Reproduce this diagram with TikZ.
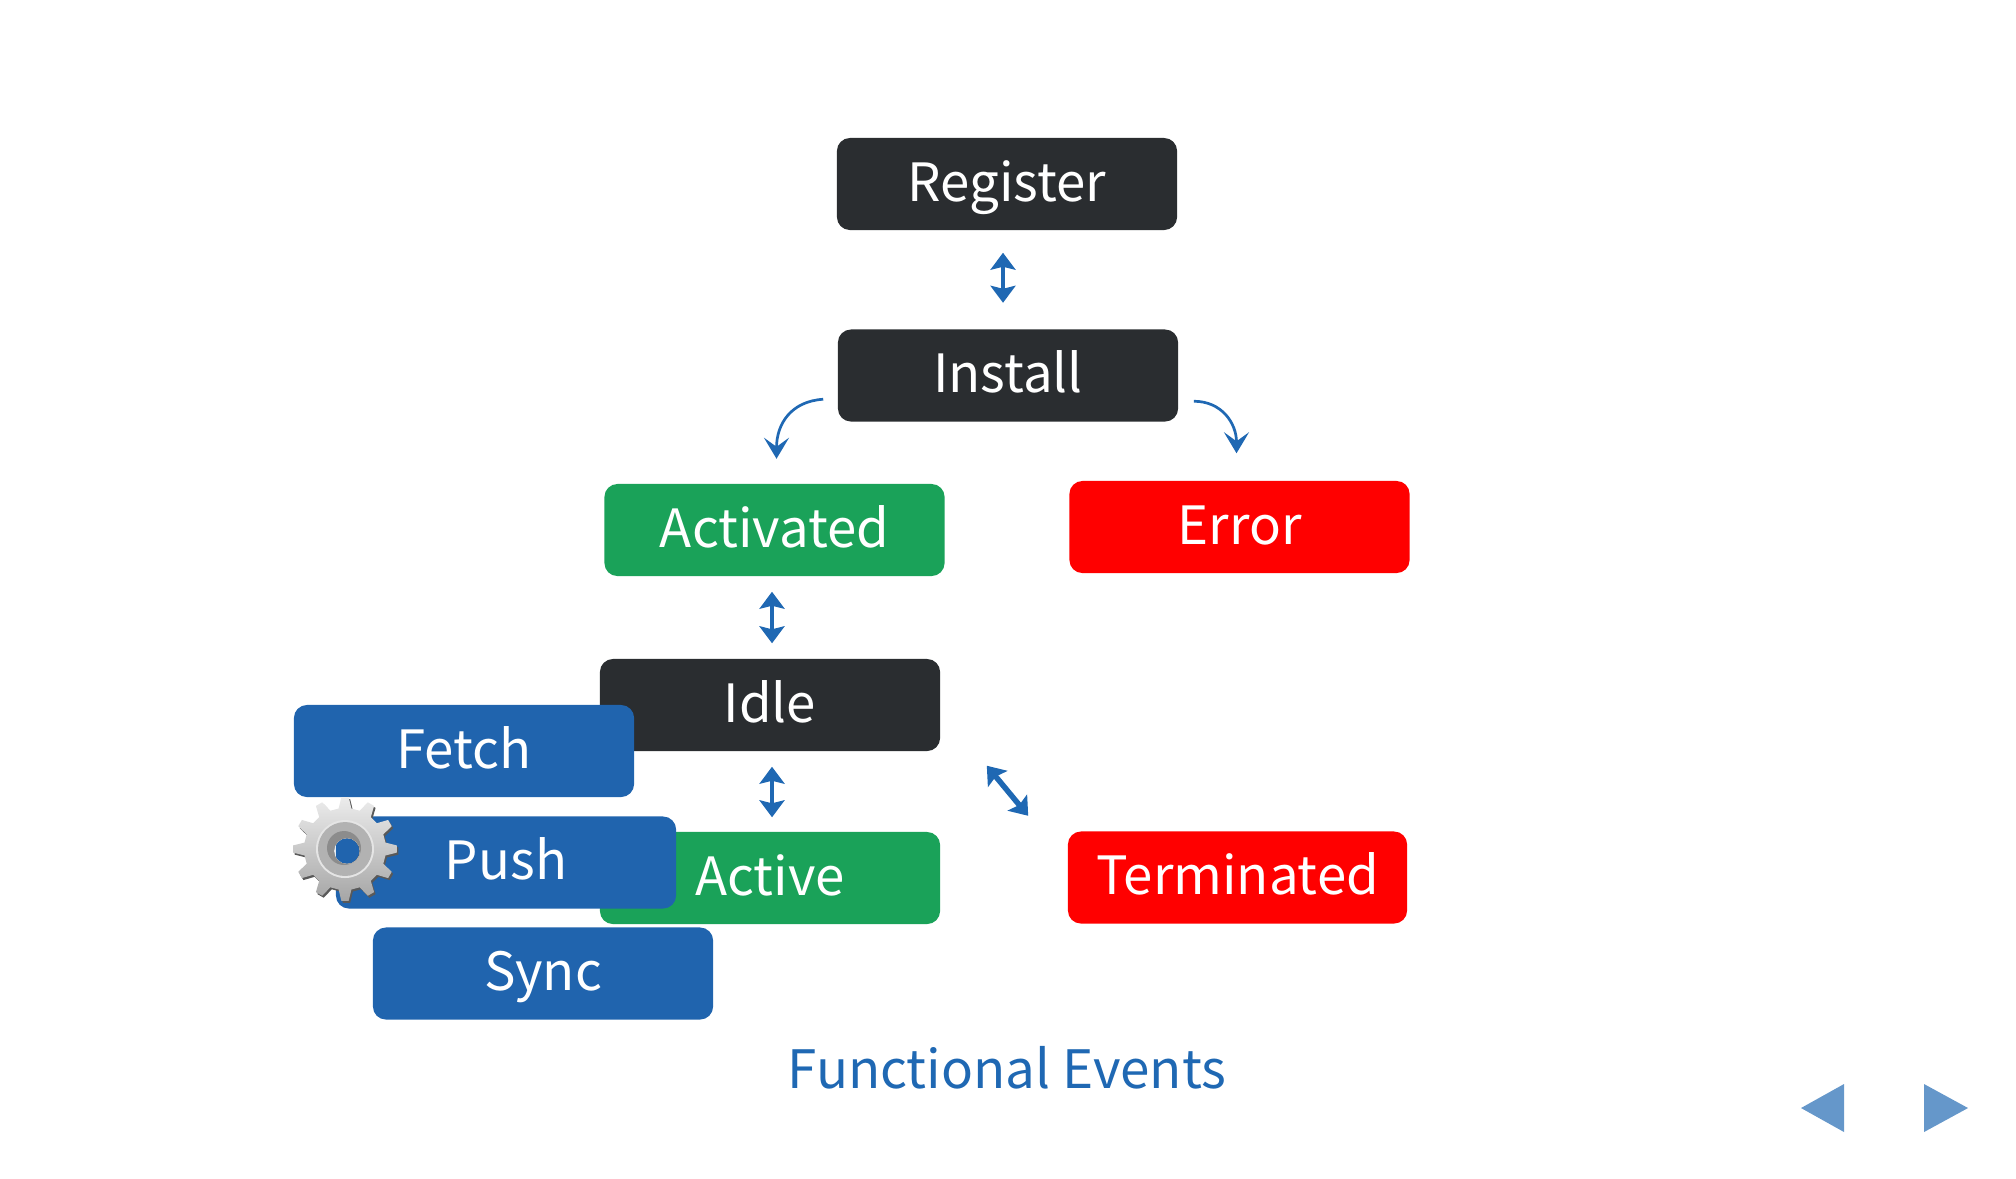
\documentclass[tikz,border=0pt]{standalone}
\usepackage{fontspec}
\setmainfont{Noto Sans CJK SC}
\usetikzlibrary{arrows.meta,calc}
\definecolor{darkbox}{HTML}{2A2D30}
\definecolor{greenbox}{HTML}{1AA259}
\definecolor{bluebox}{HTML}{2064AE}
\definecolor{bluearrow}{HTML}{1F68B3}
\definecolor{navblue}{HTML}{6597CA}
\tikzset{statebox/.style={rectangle, rounded corners=1.3mm, minimum width=3.4cm, minimum height=0.92cm, inner sep=0pt, text=white, font=\fontsize{15pt}{18pt}\selectfont, text height=14pt, text depth=4.3pt}}
\tikzset{arrow/.style={{Stealth[length=1.7mm,width=2.5mm,inset=0.3mm]}-{Stealth[length=1.7mm,width=2.5mm,inset=0.3mm]}, draw=bluearrow, line width=0.42mm}}
\tikzset{bendarrow/.style={-{Stealth[length=2.1mm,width=2.5mm,inset=0.9mm]}, draw=bluearrow, line width=0.27mm}}
\newcommand{\gearteeth}[1]{(-9:#1) \foreach \a in {0,30,...,330} {-- (\a-9:#1) -- (\a-4:52) -- (\a+4:52) -- (\a+9:#1)} -- cycle}

\begin{document}
\begin{tikzpicture}[x=0.01cm, y=-0.01cm]
      \useasboundingbox (0, 0) rectangle (2016, 1178);

      \node[statebox, fill=darkbox] (reg) at (1007, 184) {Register};
      \node[statebox, fill=darkbox] (ins) at (1008, 375.5) {Install};
      \node[statebox, fill=greenbox] (act) at (774.5, 530) {Activated};
      \node[statebox, fill=red] (err) at (1239.5, 527) {Error};
      \node[statebox, fill=darkbox] (idle) at (770, 705) {Idle};
      \node[statebox, fill=greenbox] (active) at (770, 878) {Active};
      \node[statebox, fill=red, minimum width=3.39cm] (term) at (1237.5, 877.5) {Terminated};
      \node[statebox, fill=bluebox] (fetch) at (464, 751) {Fetch};
      \node[statebox, fill=bluebox] (push) at (506, 862.5) {Push};
      \node[statebox, fill=bluebox] (sync) at (543, 973.5) {Sync};
      \node[statebox, text=bluearrow, minimum height=0.6cm, font=\fontsize{15.05pt}{18pt}\selectfont] (events) at (1007, 1071) {Functional Events};

      \draw[arrow] ($(reg.south)+(-4, 22)$) -- ($(ins.north)+(-5, -26)$);
      \draw[arrow] ($(act.south)+(-2.5, 15)$) -- ($(idle.north)+(2, -15)$);
      \draw[arrow] ($(idle.south)+(2, 15)$) -- ($(active.north)+(2, -14)$);
      \draw[arrow, line width=0.55mm] ($(idle.south east)+(46, 14)$) -- ($(term.north west)+(-39, -15)$);

      \draw[bendarrow] ($(ins.south west)+(-14, -23)$) .. controls +(-32, 2) and +(0, -35) .. ($(act.north)+(2, -24.5)$);
      \draw[bendarrow] ($(ins.south east)+(15, -21)$) .. controls +(28, 0) and +(0, -30) .. ($(err.north)+(-3, -27)$);

      \begin{scope}[shift={(345, 849)}]
        \fill[black!65, even odd rule, shift={(1.5, 2)}] \gearteeth{41} (0, 0) circle (13);
        \shade[top color=gray!15, bottom color=gray!70, even odd rule] \gearteeth{41} (2, 2) circle (13);
        \fill[gray!20, even odd rule] (0, 0) circle (29) (2, 2) circle (13);
        \fill[gray!60, even odd rule] (0, 0) circle (27) (2, 2) circle (13);
        \fill[gray!90, even odd rule] (-1, -1) circle (17) (2, 2) circle (13);
      \end{scope}

      \fill[navblue] (1801, 1108) -- (1844, 1084) -- (1844, 1132) -- cycle;
      \fill[navblue] (1968, 1108) -- (1924, 1084) -- (1924, 1132) -- cycle;
    \end{tikzpicture}
\end{document}
